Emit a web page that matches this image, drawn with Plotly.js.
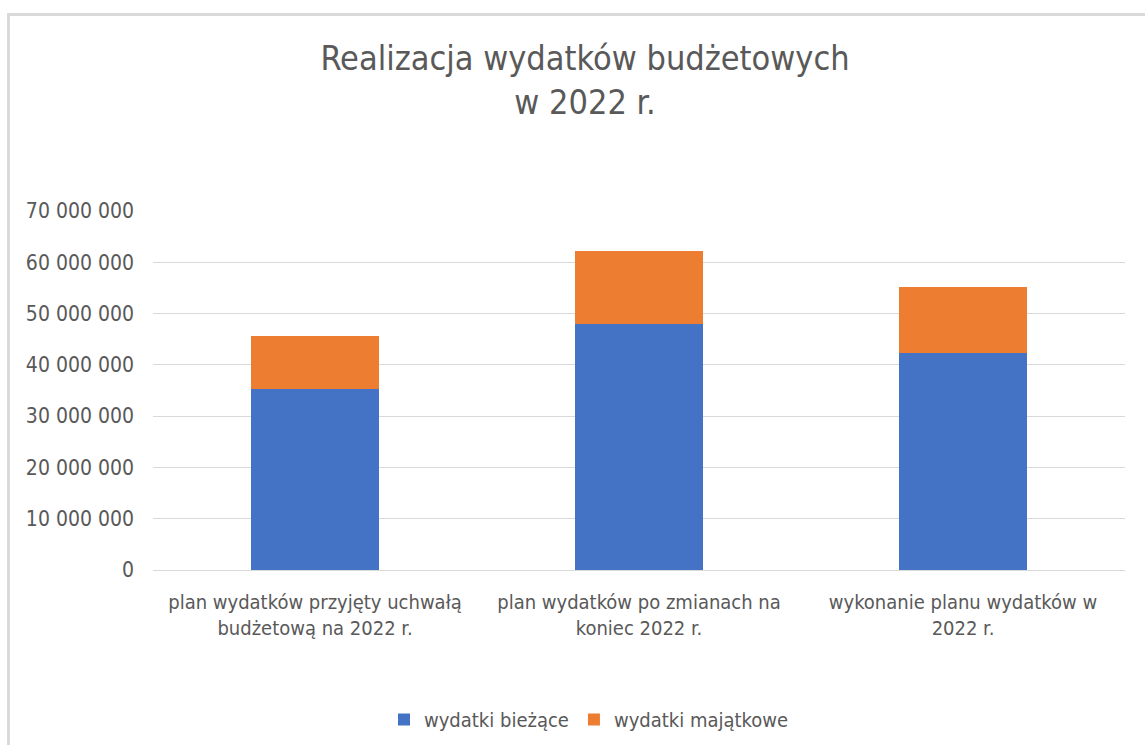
<!DOCTYPE html>
<html>
<head>
<meta charset="utf-8">
<script src="https://cdn.plot.ly/plotly-3.0.1.min.js"></script>
<style>
html,body{margin:0;padding:0;background:#fff;}
#frame{position:absolute;left:7px;top:13px;width:1150px;height:740px;border:3px solid #d9d9d9;box-sizing:border-box;pointer-events:none;z-index:5;}
#chart{position:absolute;left:0;top:0;width:1145px;height:745px;}
</style>
</head>
<body>
<div id="chart"></div>
<div id="frame"></div>
<script>
const categories = [
  "plan wydatków przyjęty uchwałą<br>budżetową na 2022 r.",
  "plan wydatków po zmianach na<br>koniec 2022 r.",
  "wykonanie planu wydatków w<br>2022 r."
];
const seriesNames = ["wydatki bieżące", "wydatki majątkowe"];
const biezace = [35200000, 47900000, 42400000];
const majatkowe = [10400000, 14300000, 12700000];
const tickVals = [0, 10000000, 20000000, 30000000, 40000000, 50000000, 60000000, 70000000];
const tickText = ["0", "10 000 000", "20 000 000", "30 000 000", "40 000 000", "50 000 000", "60 000 000", "70 000 000"];

const FONT = '"DejaVu Sans Condensed", "Liberation Sans", sans-serif';
const GRAY = '#595959';

const traces = [
  {type:'bar', name: seriesNames[0], x: categories, y: biezace, marker:{color:'#4472C4'}, hoverinfo:'y+name'},
  {type:'bar', name: seriesNames[1], x: categories, y: majatkowe, marker:{color:'#ED7D31'}, hoverinfo:'y+name'}
];

const layout = {
  width: 1145, height: 745,
  barmode: 'stack',
  bargap: 0.605,
  paper_bgcolor: 'rgba(0,0,0,0)',
  plot_bgcolor: 'rgba(0,0,0,0)',
  font: {family: FONT, color: GRAY, size: 20},
  title: {
    text: 'Realizacja wydatków budżetowych<br>w 2022 r.',
    font: {family: FONT, size: 34, color: GRAY},
    x: 585/1145, xref: 'container', xanchor: 'center',
    y: 1 - 70/745, yref: 'container', yanchor: 'top'
  },
  margin: {l: 153, r: 20, t: 211, b: 175},
  xaxis: {
    type: 'category',
    showgrid: false, showline: false, zeroline: false,
    ticks: '', tickfont: {family: FONT, size: 20, color: GRAY},
    ticklabelstandoff: 18,
    automargin: false
  },
  yaxis: {
    range: [0, 70000000],
    tickvals: tickVals, ticktext: tickText,
    showgrid: true, gridcolor: '#d9d9d9', gridwidth: 1,
    zeroline: true, zerolinecolor: '#d9d9d9', zerolinewidth: 1,
    showline: false, ticks: '',
    ticklabelstandoff: 18,
    tickfont: {family: FONT, size: 21, color: GRAY},
    automargin: false
  },
  showlegend: true,
  legend: {
    orientation: 'h',
    x: 589/1145, xref: 'container', xanchor: 'center',
    y: 1 - 700/745, yref: 'container', yanchor: 'top',
    font: {family: FONT, size: 20, color: GRAY},
    itemwidth: 30,
    traceorder: 'normal'
  }
};

Plotly.newPlot('chart', traces, layout, {displayModeBar: false});
</script>
</body>
</html>
